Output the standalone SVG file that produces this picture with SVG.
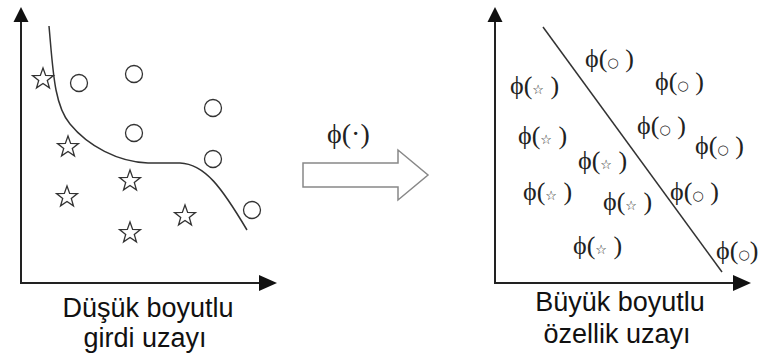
<svg xmlns="http://www.w3.org/2000/svg" width="767" height="356" viewBox="0 0 767 356">
<style>
.ax{stroke:#222;stroke-width:2;fill:none}
.ah{fill:#111}
.curve{stroke:#333;stroke-width:1.5;fill:none}
.pt{stroke:#333;stroke-width:1.3;fill:#fff}
.phi{font-family:"Liberation Serif","DejaVu Serif",serif;font-size:26px;fill:#222}
.sym{font-family:"DejaVu Sans",sans-serif;font-size:13px;font-weight:bold;fill:#222}
.lbl{font-family:"Liberation Sans",Arial,sans-serif;font-size:27px;fill:#111;text-anchor:middle}
</style>
<defs>
<polygon id="star" points="0,-11 2.65,-3.64 10.46,-3.4 4.28,1.39 6.47,8.9 0,4.5 -6.47,8.9 -4.28,1.39 -10.46,-3.4 -2.65,-3.64"/>
</defs>
<rect width="767" height="356" fill="#fff"/>
<g id="left-axes">
<line class="ax" x1="21" y1="283" x2="21" y2="20"/>
<line class="ax" x1="20" y1="283" x2="262" y2="283"/>
<polygon class="ah" points="21,7 13.5,22 28.5,22"/>
<polygon class="ah" points="277,283 259,275 259,291"/>
</g>
<g id="left-curve">
<path class="curve" d="M49,26 C53,70 54,105 70,124 C88,146 118,162 148,163 L180,163 C205,164 222,188 247,230"/>
</g>
<g id="left-stars" class="pt">
<use href="#star" x="43" y="79"/>
<use href="#star" x="68" y="147"/>
<use href="#star" x="67" y="197"/>
<use href="#star" x="130" y="181"/>
<use href="#star" x="130" y="233"/>
<use href="#star" x="185" y="216"/>
</g>
<g id="left-circles" class="pt">
<circle cx="79" cy="83" r="8.5"/>
<circle cx="134" cy="74" r="8.5"/>
<circle cx="213" cy="108" r="8.5"/>
<circle cx="134" cy="133" r="8.5"/>
<circle cx="213" cy="159" r="8.5"/>
<circle cx="252" cy="210" r="8.5"/>
</g>
<g id="map-arrow">
<polygon points="303,163 398,163 398,150 428,175 398,200 398,187 303,187" fill="#fff" stroke="#888" stroke-width="1.5"/>
<text x="327" y="143" style="font-family:'Liberation Serif','DejaVu Serif',serif;font-size:28px;fill:#222">ϕ(·)</text>
</g>
<g id="right-axes">
<line class="ax" x1="495" y1="283" x2="495" y2="20"/>
<line class="ax" x1="494" y1="283" x2="736" y2="283"/>
<polygon class="ah" points="495,7 487.5,22 502.5,22"/>
<polygon class="ah" points="751,283 733,275 733,291"/>
</g>
<g id="separator">
<line x1="543" y1="27" x2="722" y2="272" stroke="#333" stroke-width="1.5"/>
</g>
<g id="right-labels" class="phi">
<text x="585" y="67">ϕ(<tspan class="sym">○</tspan> )</text>
<text x="655" y="90">ϕ(<tspan class="sym">○</tspan> )</text>
<text x="510" y="94">ϕ(<tspan class="sym">☆</tspan> )</text>
<text x="637" y="134">ϕ(<tspan class="sym">○</tspan> )</text>
<text x="518" y="144">ϕ(<tspan class="sym">☆</tspan> )</text>
<text x="695" y="154">ϕ(<tspan class="sym">○</tspan> )</text>
<text x="578" y="169">ϕ(<tspan class="sym">☆</tspan> )</text>
<text x="523" y="200">ϕ(<tspan class="sym">☆</tspan> )</text>
<text x="603" y="210">ϕ(<tspan class="sym">☆</tspan> )</text>
<text x="670" y="200">ϕ(<tspan class="sym">○</tspan> )</text>
<text x="573" y="254">ϕ(<tspan class="sym">☆</tspan> )</text>
<text x="716" y="259">ϕ(<tspan class="sym">○</tspan>)</text>
</g>
<g id="captions" class="lbl">
<text x="148" y="317">Düşük boyutlu</text>
<text x="145" y="347">girdi uzayı</text>
<text x="620" y="311">Büyük boyutlu</text>
<text x="617" y="343">özellik uzayı</text>
</g>
</svg>
